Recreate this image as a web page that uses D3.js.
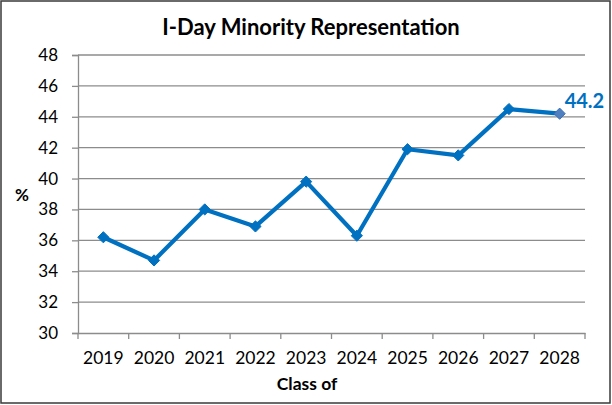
<!DOCTYPE html>
<html><head><meta charset="utf-8">
<script src="https://cdn.jsdelivr.net/npm/d3@7"></script>
<style>body{margin:0;background:#fff}svg{display:block}text{font-family:Lato,"Open Sans",sans-serif}</style>
</head><body>
<svg id="c" width="612" height="405"></svg>
<script>
const categories = ["2019","2020","2021","2022","2023","2024","2025","2026","2027","2028"];
const values = [36.2, 34.7, 38.0, 36.9, 39.8, 36.3, 41.9, 41.5, 44.5, 44.2];
const yTicks = [30,32,34,36,38,40,42,44,46,48];
const title = "I-Day Minority Representation";
const xTitle = "Class of";
const yTitle = "%";

const svg = d3.select("#c");
const m = {l:78, r:585, t:55, b:333};
const blue = "#0070C0";
const grid = "#8c8c8c";

svg.append("rect").attr("x",1).attr("y",1).attr("width",609).attr("height",402)
  .attr("fill","#fff").attr("stroke","#3a3a3a").attr("stroke-width",1.5);

const x = d3.scaleBand().domain(categories).range([m.l,m.r]);
const y = d3.scaleLinear().domain([30,48]).range([m.b,m.t]);

// gridlines
svg.append("g").selectAll("line").data(yTicks.slice(1)).join("line")
  .attr("x1",m.l).attr("x2",m.r).attr("y1",d=>y(d)).attr("y2",d=>y(d))
  .attr("stroke",grid).attr("stroke-width",1.3);

// y axis
const ya = svg.append("g").attr("transform",`translate(${m.l},0)`)
  .call(d3.axisLeft(y).tickValues(yTicks).tickSize(6).tickPadding(14));
ya.select(".domain").attr("stroke",grid).attr("stroke-width",1.3);
ya.selectAll(".tick line").attr("stroke",grid).attr("stroke-width",1.3);
ya.selectAll("text").attr("font-size",17).attr("fill","#000");

// x axis
const xa = svg.append("g").attr("transform",`translate(0,${m.b})`)
  .call(d3.axisBottom(x).tickSize(0).tickPadding(19));
xa.select(".domain").attr("stroke",grid).attr("stroke-width",1.3);
xa.selectAll("text").attr("font-size",17.5).attr("fill","#000");
// boundary ticks
const bounds = categories.map(c=>x(c)).concat([m.r]);
svg.append("g").selectAll("line").data(bounds).join("line")
  .attr("x1",d=>d).attr("x2",d=>d).attr("y1",m.b).attr("y2",m.b+6)
  .attr("stroke",grid).attr("stroke-width",1.3);

// line
const cx = d=>x(d)+x.bandwidth()/2;
const data = categories.map((c,i)=>({c,v:values[i]}));
svg.append("path").datum(data)
  .attr("d",d3.line().x(d=>cx(d.c)).y(d=>y(d.v)))
  .attr("fill","none").attr("stroke",blue).attr("stroke-width",4.2).attr("stroke-linejoin","round");

const diamond = d3.symbol().type(d3.symbolDiamond2).size(80);
svg.append("g").selectAll("path").data(data).join("path")
  .attr("transform",d=>`translate(${cx(d.c)},${y(d.v)})`)
  .attr("d",diamond)
  .attr("fill",(d,i)=>i===data.length-1?"#4f7fbf":blue)
  .attr("stroke",(d,i)=>i===data.length-1?"#3a6fb8":blue).attr("stroke-width",1);

// last label
const last = data[data.length-1];
svg.append("text").attr("x",cx(last.c)+5).attr("y",y(last.v)-6)
  .attr("font-size",20).attr("font-weight","bold").attr("fill",blue).text(last.v.toFixed(1));

// titles
svg.append("text").attr("x",311).attr("y",35).attr("text-anchor","middle")
  .attr("font-size",22).attr("font-weight","bold").attr("fill","#000").text(title);
svg.append("text").attr("x",307).attr("y",390).attr("text-anchor","middle")
  .attr("font-size",17.5).attr("font-weight","bold").attr("fill","#000").text(xTitle);
svg.append("text").attr("x",22).attr("y",201).attr("text-anchor","middle")
  .attr("font-size",17).attr("font-weight","bold").attr("fill","#000").text(yTitle);
</script>
</body></html>
